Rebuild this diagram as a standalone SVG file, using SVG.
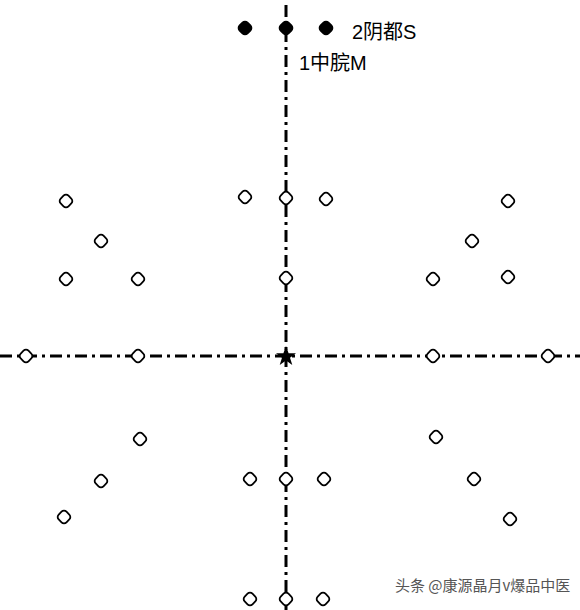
<svg xmlns="http://www.w3.org/2000/svg" width="580" height="610" viewBox="0 0 580 610">
<defs>
<style>
.axis{stroke:#000;stroke-width:3;stroke-dasharray:12 5 3 5;fill:none}
.pt{fill:#fff;stroke:#000;stroke-width:1.8}
.fp{fill:#000;stroke:#000;stroke-width:2}
.lbl{font-family:"Liberation Sans","Noto Sans CJK SC",sans-serif;font-size:20px;fill:#000}
.wm{font-family:"Noto Sans CJK SC",sans-serif;font-size:15px;fill:#555}
</style>
<rect id="d" x="-5.5" y="-5.5" width="11" height="11" rx="3.5" transform="rotate(45)"/>
</defs>
<rect width="580" height="610" fill="#fff"/>
<g id="connectors">
<line class="axis" x1="286" y1="5" x2="286" y2="610"/>
<line class="axis" x1="0" y1="356" x2="580" y2="356"/>
</g>
<g id="top-points">
<use href="#d" class="fp" x="245" y="28"/>
<use href="#d" class="fp" x="286" y="28"/>
<use href="#d" class="fp" x="326" y="28"/>
<text class="lbl" x="352" y="39">2阴都S</text>
<text class="lbl" x="299" y="70">1中脘M</text>
</g>
<g id="upper-center">
<use href="#d" class="pt" x="245" y="197"/>
<use href="#d" class="pt" x="286" y="198"/>
<use href="#d" class="pt" x="326" y="199"/>
<use href="#d" class="pt" x="286" y="278"/>
</g>
<g id="upper-left">
<use href="#d" class="pt" x="66" y="201"/>
<use href="#d" class="pt" x="101" y="241"/>
<use href="#d" class="pt" x="66" y="279"/>
<use href="#d" class="pt" x="138" y="279"/>
</g>
<g id="upper-right">
<use href="#d" class="pt" x="508" y="201"/>
<use href="#d" class="pt" x="472" y="241"/>
<use href="#d" class="pt" x="433" y="279"/>
<use href="#d" class="pt" x="508" y="277"/>
</g>
<g id="horizontal">
<use href="#d" class="pt" x="26" y="356"/>
<use href="#d" class="pt" x="138" y="356"/>
<use href="#d" class="pt" x="433" y="356"/>
<use href="#d" class="pt" x="548" y="356"/>
</g>
<g id="center">
<polygon fill="#000" points="286,346 288.6,353.2 296,353.2 290,357.7 292.3,365 286,360.5 279.7,365 282,357.7 276,353.2 283.4,353.2"/>
</g>
<g id="lower-left">
<use href="#d" class="pt" x="140" y="439"/>
<use href="#d" class="pt" x="101" y="481"/>
<use href="#d" class="pt" x="64" y="517"/>
</g>
<g id="lower-right">
<use href="#d" class="pt" x="436" y="437"/>
<use href="#d" class="pt" x="474" y="479"/>
<use href="#d" class="pt" x="510" y="519"/>
</g>
<g id="lower-center">
<use href="#d" class="pt" x="250" y="479"/>
<use href="#d" class="pt" x="286" y="479"/>
<use href="#d" class="pt" x="324" y="479"/>
</g>
<g id="bottom">
<use href="#d" class="pt" x="250" y="599"/>
<use href="#d" class="pt" x="286" y="599"/>
<use href="#d" class="pt" x="323" y="599"/>
</g>
<text class="wm" x="395" y="591">头条 @康源晶月v爆品中医</text>
</svg>
